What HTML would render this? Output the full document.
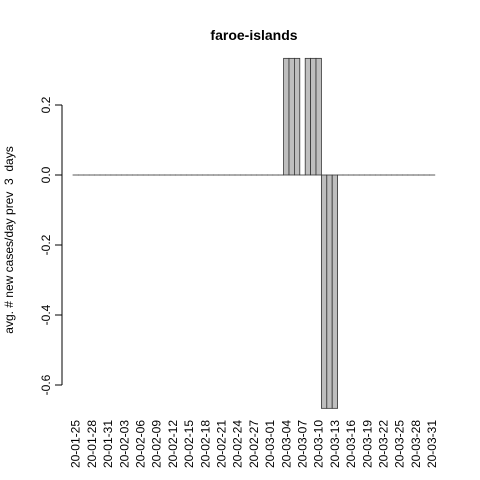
<!DOCTYPE html>
<html><head><meta charset="utf-8"><style>
body{margin:0;background:#fff}
svg{display:block;font-family:"Liberation Sans",sans-serif}
text{white-space:pre}
</style></head><body>
<svg id="chart" width="480" height="480">
<text x="254" y="40" text-anchor="middle" font-weight="bold" font-size="14">faroe-islands</text>
<text transform="translate(13,240) rotate(-90)" text-anchor="middle" font-size="12" xml:space="preserve">avg. # new cases/day prev  3  days</text>
<g id="bars"></g><g id="yaxis"></g><g id="xlabels"></g>
</svg>
<script>
const startDate = [2020, 0, 25];
const nDays = 67;
const nonzeroDays = [39,40,41,43,44,45,46,47,48];
const nonzeroVals = [0.3333,0.3333,0.3333,0.3333,0.3333,0.3333,-0.6667,-0.6667,-0.6667];
const yTicks = [-0.6,-0.4,-0.2,0.0,0.2];
const yTickLabels = ["-0.6","-0.4","-0.2","0.0","0.2"];
const labelEvery = 3;

const x0 = 73, bw = 5.4;
const y = v => 175 - v * 350;
const xs = i => x0 + i * bw;
const NS = "http://www.w3.org/2000/svg";
const values = new Array(nDays).fill(0);
nonzeroDays.forEach((d,k)=>{ values[d] = nonzeroVals[k]; });

const gb = document.getElementById('bars');
values.forEach((v,i)=>{
  const r = document.createElementNS(NS,'rect');
  
  
  r.setAttribute('x', xs(i)); r.setAttribute('width', bw);
  const top = Math.min(y(v), y(0)), h = Math.abs(y(v)-y(0));
  r.setAttribute('y', top); r.setAttribute('height', Math.max(h,0.01));
  r.setAttribute('fill', '#bebebe'); r.setAttribute('stroke', '#333'); r.setAttribute('stroke-width', '0.8');
  gb.appendChild(r);
});
const ya = document.getElementById('yaxis');
const al = document.createElementNS(NS,'line');


al.setAttribute('x1',62); al.setAttribute('x2',62);
al.setAttribute('y1',y(yTicks[0])); al.setAttribute('y2',y(yTicks[yTicks.length-1]));
al.setAttribute('stroke','#000');
ya.appendChild(al);
yTicks.forEach((t,k)=>{
  const l = document.createElementNS(NS,'line');
  
  
  l.setAttribute('x1',55); l.setAttribute('x2',62); l.setAttribute('y1',y(t)); l.setAttribute('y2',y(t));
  l.setAttribute('stroke','#000'); ya.appendChild(l);
  const tx = document.createElementNS(NS,'text');
  
  
  tx.setAttribute('transform',`translate(50,${y(t)}) rotate(-90)`);
  tx.setAttribute('text-anchor','middle'); tx.setAttribute('font-size','12');
  tx.textContent = yTickLabels[k]; ya.appendChild(tx);
});
const xl = document.getElementById('xlabels');
for(let i=0;i<nDays;i+=labelEvery){
  const d = new Date(startDate[0], startDate[1], startDate[2]+i);
  const s = String(d.getFullYear()%100).padStart(2,'0')+'-'+String(d.getMonth()+1).padStart(2,'0')+'-'+String(d.getDate()).padStart(2,'0');
  const tx = document.createElementNS(NS,'text');
  
  
  tx.setAttribute('transform',`translate(${xs(i)+bw/2+4},420) rotate(-90)`);
  tx.setAttribute('text-anchor','end'); tx.setAttribute('font-size','12');
  tx.textContent = s; xl.appendChild(tx);
}
</script>
</body></html>
